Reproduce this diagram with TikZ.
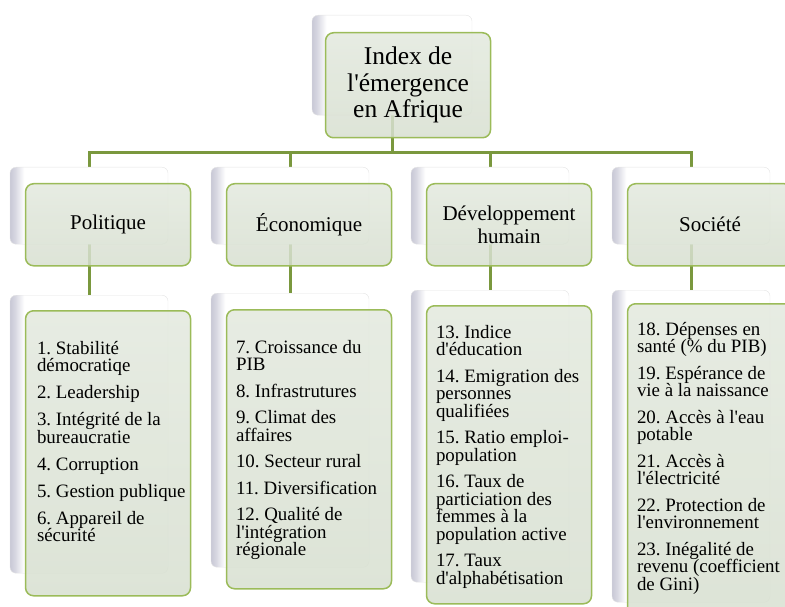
\documentclass[tikz,border=0pt]{standalone}
\usepackage{fontspec}
\setmainfont{Liberation Serif}
\usetikzlibrary{positioning}
\usetikzlibrary{backgrounds}
\frenchspacing

\definecolor{boxgreen}{HTML}{9BBB59}
\definecolor{linkgreen}{HTML}{7A983E}
\definecolor{fronttop}{HTML}{E3E9DE}
\definecolor{frontbottom}{HTML}{D7DFD0}
\definecolor{bevelgray}{HTML}{C8C8D6}
\pgfdeclarehorizontalshading{bevel}{100bp}{color(0bp)=(bevelgray); color(25bp)=(bevelgray); color(26.5bp)=(bevelgray!75); color(29.5bp)=(white); color(100bp)=(white)}

\begin{document}
\begin{tikzpicture}[%
        x=1pt, y=-1pt,
        backbox/.style={
            % the shape:
            rectangle,
            rounded corners=6pt,
            % the rest:
            draw=black!10,
            shade, shading=bevel,
            minimum width=158pt,
            inner sep=0pt,
        },
        frontbox/.style={
            % the shape:
            rectangle,
            rounded corners=8pt,
            % the rest:
            line width=1.5pt,
            draw=boxgreen,
            top color=fronttop,
            bottom color=frontbottom,
            fill opacity=0.85,
            text opacity=1,
            minimum width=165pt,
            inner sep=0pt,
            align=center,
        },
        topic/.style={
            frontbox,
            minimum height=82pt,
            font=\fontsize{21}{22.5}\selectfont,
        },
        items/.style={
            inner sep=0pt,
            align=left,
            font=\fontsize{18.9}{17.5}\selectfont,
        },
        link/.style={
            draw=linkgreen,
            line width=3pt,
        },
    ]

    \useasboundingbox (0,0) rectangle (785,607);
    \clip (0,0) rectangle (785,607);

    % top
    \node[backbox, minimum width=160pt, minimum height=100pt, anchor=north] (indexback) at (392,15) {};
    \node[frontbox, minimum height=105pt, below right=17pt and 13pt of indexback.north west,
          font=\fontsize{25.5}{26.5}\selectfont] (index)
        {Index de\\l\textquotesingle émergence\\en Afrique};

    % second row
    \node[backbox, minimum height=77pt, anchor=north] (polback) at (89,167) {};
    \node[topic, below right=16pt and 15pt of polback.north west] (pol) {Politique};
    \node[backbox, minimum height=77pt, anchor=north] (ecoback) at (290,167) {};
    \node[topic, below right=16pt and 15pt of ecoback.north west] (eco) {Économique};
    \node[backbox, minimum height=77pt, anchor=north] (devback) at (490,167) {};
    \node[topic, below right=16pt and 15pt of devback.north west] (dev) {Développement\\humain};
    \node[backbox, minimum height=77pt, anchor=north] (socback) at (691,167) {};
    \node[topic, below right=16pt and 15pt of socback.north west] (soc) {Société};

    % lists
    \node[backbox, minimum height=278pt, anchor=north] (pollistback) at (89,295) {};
    \node[frontbox, minimum height=285pt, below right=15pt and 15pt of pollistback.north west] (pollist) {};
    \node[items, below right=31pt and 12pt of pollist.north west] (politems)
        {1. Stabilité\\démocratiqe\\[9.5pt]
         2. Leadership\\[9.5pt]
         3. Intégrité de la\\bureaucratie\\[9.5pt]
         4. Corruption\\[9.5pt]
         5. Gestion publique\\[9.5pt]
         6. Appareil de\\sécurité};

    \node[backbox, minimum height=274pt, anchor=north] (ecolistback) at (290,293) {};
    \node[frontbox, minimum height=279pt, below right=16pt and 15pt of ecolistback.north west] (ecolist) {};
    \node[items, below right=31pt and 10pt of ecolist.north west] (ecoitems)
        {7. Croissance du\\PIB\\[9pt]
         8. Infrastrutures\\[9pt]
         9. Climat des\\affaires\\[9pt]
         10. Secteur rural\\[9pt]
         11. Diversification\\[9pt]
         12. Qualité de\\l\textquotesingle intégration\\régionale};

    \node[backbox, minimum height=292pt, anchor=north] (devlistback) at (490,290) {};
    \node[frontbox, minimum height=298pt, below right=15pt and 15pt of devlistback.north west] (devlist) {};
    \node[items, below right=20pt and 10pt of devlist.north west] (devitems)
        {13. Indice\\d\textquotesingle éducation\\[9pt]
         14. Emigration des\\personnes\\qualifiées\\[9pt]
         15. Ratio emploi-\\population\\[9pt]
         16. Taux de\\particiation des\\femmes à la\\population active\\[9pt]
         17. Taux\\d\textquotesingle alphabétisation};

    \node[backbox, minimum height=312pt, anchor=north] (soclistback) at (691,290) {};
    \node[frontbox, minimum height=320pt, below right=13pt and 15pt of soclistback.north west] (soclist) {};
    \node[items, below right=19pt and 10pt of soclist.north west] (socitems)
        {18. Dépenses en\\santé (\% du PIB)\\[9pt]
         19. Espérance de\\vie à la naissance\\[9pt]
         20. Accès à l\textquotesingle eau\\potable\\[9pt]
         21. Accès à\\l\textquotesingle électricité\\[9pt]
         22. Protection de\\l\textquotesingle environnement\\[9pt]
         23. Inégalité de\\revenu (coefficient\\de Gini)};

    % connectors
    \begin{scope}[on background layer]
        \coordinate (bus) at (0,152.5);
        \draw[link] (indexback.south) -- (indexback.south |- bus);
        \draw[link] (polback.north) |- (socback.north |- bus) -- (socback.north);
        \draw[link] (ecoback.north) -- (ecoback.north |- bus);
        \draw[link] (devback.north) -- (devback.north |- bus);
        \draw[link] (polback.south) -- (pollistback.north);
        \draw[link] (ecoback.south) -- (ecolistback.north);
        \draw[link] (devback.south) -- (devlistback.north);
        \draw[link] (socback.south) -- (soclistback.north);
    \end{scope}

\end{tikzpicture}
\end{document}
